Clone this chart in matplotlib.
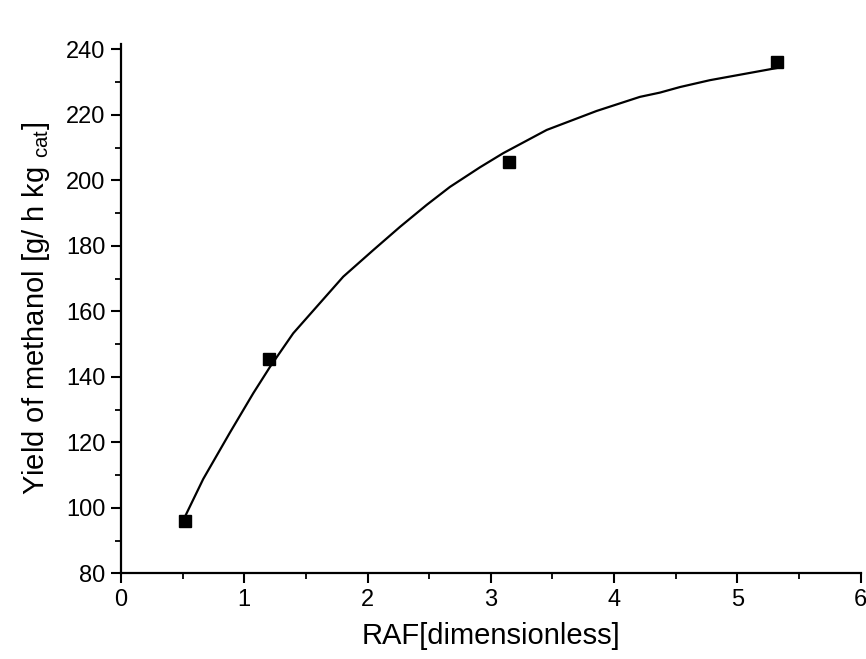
import matplotlib
matplotlib.use("Agg")
import matplotlib.pyplot as plt
from matplotlib.ticker import MultipleLocator

plt.rcParams['font.family'] = ['Liberation Sans', 'DejaVu Sans']
plt.rcParams['mathtext.fontset'] = 'custom'
plt.rcParams['mathtext.rm'] = 'Liberation Sans'
plt.rcParams['mathtext.it'] = 'Liberation Sans'

# measured data
raf = [0.52, 1.20, 3.15, 5.32]
yield_meoh = [96.1, 145.4, 205.6, 236.0]

# fitted curve
curve_x = [0.519, 0.667, 0.884, 1.073, 1.208, 1.397, 1.587, 1.803, 2.046, 2.263,
           2.479, 2.668, 2.912, 3.10, 3.453, 3.858, 4.209, 4.371, 4.534, 4.777, 5.318]
curve_y = [97.3, 108.8, 123.0, 135.0, 143.0, 153.3, 161.4, 170.6, 178.7, 185.8,
           192.5, 198.0, 204.0, 208.3, 215.4, 221.2, 225.5, 226.8, 228.5, 230.6, 234.3]

fig = plt.figure(figsize=(8.66, 6.59), dpi=100)
ax = fig.add_axes([0.1397, 0.130, 0.8542, 0.803])

ax.plot(curve_x, curve_y, color='black', lw=1.6, zorder=2, solid_joinstyle='round')
ax.plot(raf, yield_meoh, linestyle='none', marker='s', color='black', markersize=8.5, zorder=3)

ax.set_xlim(0, 6)
ax.set_ylim(80, 241.6)
ax.xaxis.set_major_locator(MultipleLocator(1))
ax.xaxis.set_minor_locator(MultipleLocator(0.5))
ax.yaxis.set_major_locator(MultipleLocator(20))
ax.yaxis.set_minor_locator(MultipleLocator(10))

for s in ['top', 'right']:
    ax.spines[s].set_visible(False)
for s in ['left', 'bottom']:
    ax.spines[s].set_linewidth(1.6)

ax.tick_params(which='major', direction='out', length=7, width=1.5, labelsize=17, pad=4)
ax.tick_params(which='minor', direction='out', length=4.5, width=1.3)

ax.set_xlabel('RAF[dimensionless]', fontsize=21, labelpad=8)
ax.set_ylabel(r'Yield of methanol [g/ h kg $_{\mathrm{cat}}$]', fontsize=21, labelpad=10)

fig.savefig('out.png', dpi=100)
